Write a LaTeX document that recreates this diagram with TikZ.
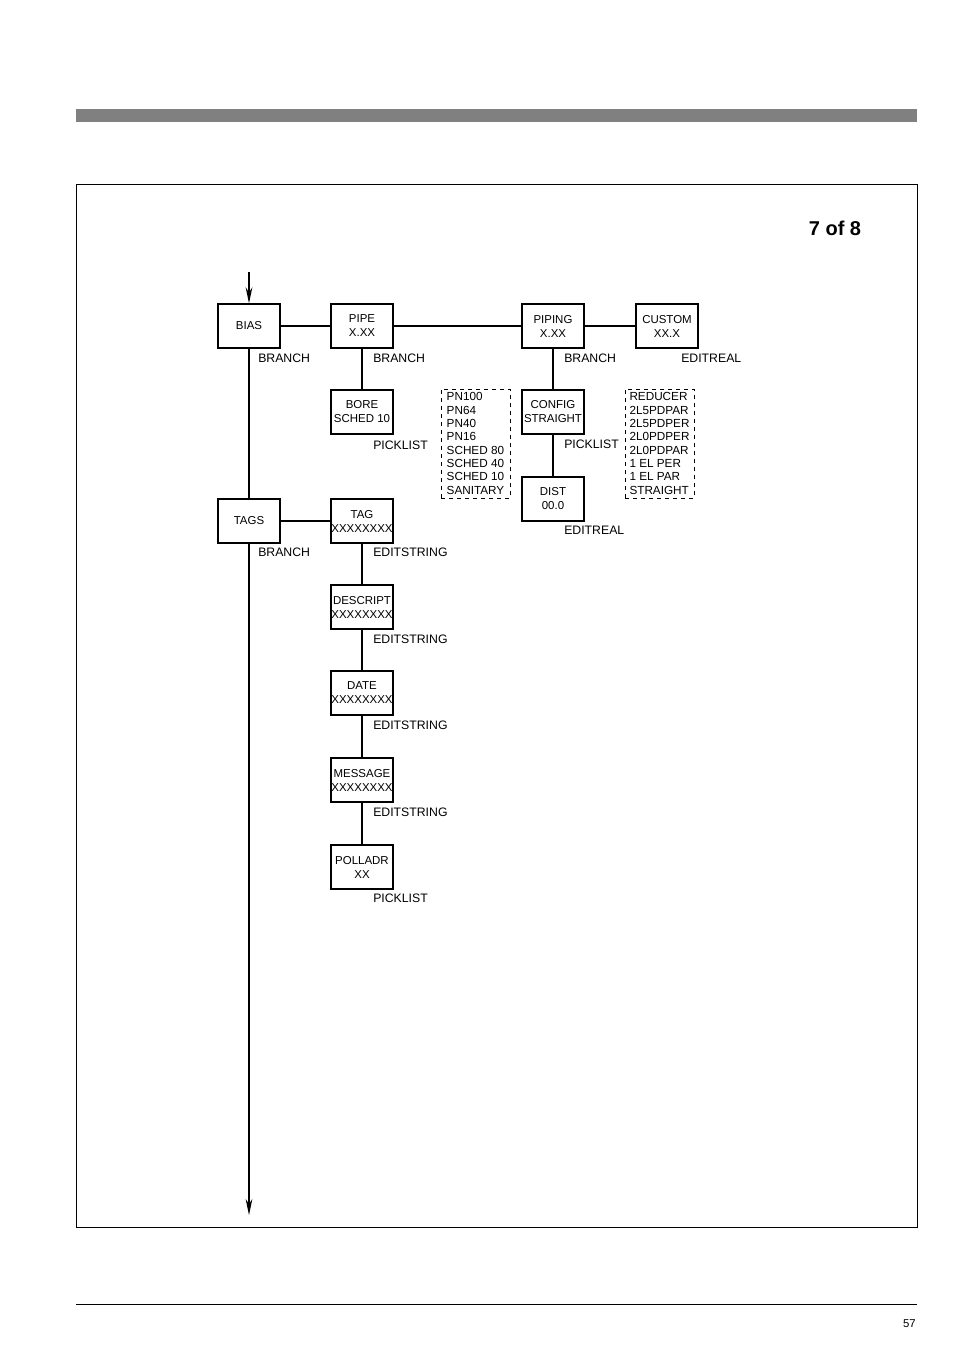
\documentclass[tikz,border=0pt]{standalone}
\usepackage{fontspec}
\usetikzlibrary{arrows.meta}
\setmainfont{Liberation Sans}
\begin{document}
\begin{tikzpicture}[x=0.75pt,y=-0.75pt,
  bx/.style={draw,line width=1pt,minimum width=46.5pt,minimum height=33pt,inner sep=0pt,align=center,font=\fontsize{8.6}{10.5}\selectfont},
  tx/.style={anchor=west,inner sep=0pt,font=\fontsize{9.2}{10}\selectfont},
  lst/.style={draw,dashed,minimum width=51.75pt,minimum height=81.75pt,inner sep=2pt,align=left,font=\fontsize{8.8}{10}\selectfont},
  ln/.style={line width=0.9pt},
  ar/.style={-{Stealth[length=12pt,width=5pt]}}]
\useasboundingbox (0,0) rectangle (954,1349);
\fill[gray] (76,109) rectangle (917,122);
\draw[line width=0.6pt] (76,184) rectangle (917,1227);
\draw[line width=0.6pt] (76,1304) -- (917,1304);
\node[anchor=east,inner sep=0pt,font=\fontsize{8.5}{10}\selectfont] (pg) at (916,1324) {57};
\node[inner sep=0pt,font=\bfseries\fontsize{15}{18}\selectfont] (title) at (835,228) {7 of 8};

\node[bx] (bias) at (249,326) {BIAS};
\node[bx] (tags) at (249,521) {TAGS};
\node[bx] (pipe) at (362,326) {PIPE\\X.XX};
\node[bx] (piping) at (553,326) {PIPING\\X.XX};
\node[bx] (custom) at (667,326) {CUSTOM\\XX.X};
\node[bx] (bore) at (362,412) {BORE\\SCHED 10};
\node[bx] (config) at (553,412) {CONFIG\\STRAIGHT};
\node[bx] (dist) at (553,499) {DIST\\00.0};
\node[bx] (tag) at (362,521) {TAG\\XXXXXXXX};
\node[bx] (desc) at (362,607) {DESCRIPT\\XXXXXXXX};
\node[bx] (date) at (362,693) {DATE\\XXXXXXXX};
\node[bx] (msg) at (362,780) {MESSAGE\\XXXXXXXX};
\node[bx] (poll) at (362,867) {POLLADR\\XX};
\node[lst] (l1) at (475.5,443.5) {PN100\\PN64\\PN40\\PN16\\SCHED 80\\SCHED 40\\SCHED 10\\SANITARY};
\node[lst] (l2) at (659.5,443.5) {REDUCER\\2L5PDPAR\\2L5PDPER\\2L0PDPER\\2L0PDPAR\\1 EL PER\\1 EL PAR\\STRAIGHT};

\coordinate (top) at (249,272);
\coordinate (bot) at (249,1215);
\draw[ln,ar] (top) -- (bias);
\draw[ln] (bias) -- (tags);
\draw[ln,ar] (tags) -- (bot);
\draw[ln] (bias) -- (pipe);
\draw[ln] (pipe) -- (piping);
\draw[ln] (piping) -- (custom);
\draw[ln] (pipe) -- (bore);
\draw[ln] (piping) -- (config);
\draw[ln] (config) -- (dist);
\draw[ln] (tags) -- (tag);
\draw[ln] (tag) -- (desc);
\draw[ln] (desc) -- (date);
\draw[ln] (date) -- (msg);
\draw[ln] (msg) -- (poll);

\node[tx] (t1) at (258,358) {BRANCH};
\node[tx] (t2) at (373,358) {BRANCH};
\node[tx] (t3) at (564,358) {BRANCH};
\node[tx] (t4) at (681,358) {EDITREAL};
\node[tx] (t5) at (373,445) {PICKLIST};
\node[tx] (t6) at (564,444) {PICKLIST};
\node[tx] (t7) at (564,530) {EDITREAL};
\node[tx] (t8) at (258,552) {BRANCH};
\node[tx] (t9) at (373,552) {EDITSTRING};
\node[tx] (t10) at (373,639) {EDITSTRING};
\node[tx] (t11) at (373,725) {EDITSTRING};
\node[tx] (t12) at (373,812) {EDITSTRING};
\node[tx] (t13) at (373,898) {PICKLIST};
\end{tikzpicture}
\end{document}
